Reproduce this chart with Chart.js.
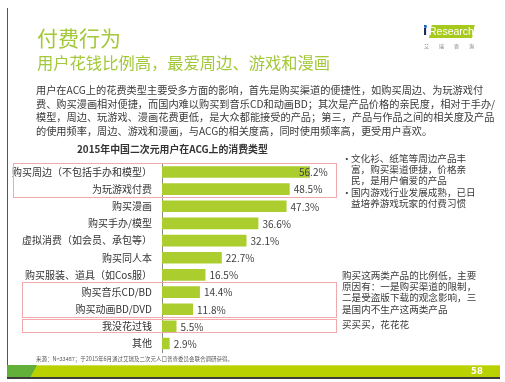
<!DOCTYPE html>
<html>
<head>
<meta charset="utf-8">
<script src="https://cdn.jsdelivr.net/npm/chart.js@4/dist/chart.umd.min.js"></script>
<style>
  html,body{margin:0;padding:0;background:#fff;}
  body{width:505px;height:382px;position:relative;overflow:hidden;font-family:"Noto Sans CJK SC","Noto Sans",sans-serif;}
  .abs{position:absolute;white-space:nowrap;}
  #chart{position:absolute;left:0;top:0;}
  .title{left:37px;top:24px;font-size:21px;line-height:26px;color:#a3c93a;}
  .subtitle{left:37px;top:52px;font-size:16.3px;line-height:20px;color:#a3c93a;}
  .body{left:36px;top:83px;font-size:10.2px;line-height:13.7px;color:#3a3a3a;}
  .body .j{width:425px;text-align:justify;text-align-last:justify;}
  .ctitle{left:77px;top:142px;font-size:9.9px;line-height:14px;font-weight:bold;color:#333;}
  .note{font-size:9.6px;line-height:11.2px;color:#3a3a3a;}
  .foot{left:36px;top:355px;font-size:5.5px;line-height:8px;color:#555;}
</style>
</head>
<body>
<canvas id="chart" width="505" height="382"></canvas>

<div class="abs" style="left:6.5px;top:8px;width:1.5px;height:371px;background:#555;"></div>

<div class="abs title">付费行为</div>
<div class="abs subtitle">用户花钱比例高，最爱周边、游戏和漫画</div>

<div class="abs body">
  <div class="j">用户在ACG上的花费类型主要受多方面的影响，首先是购买渠道的便捷性，如购买周边、为玩游戏付</div>
  <div class="j">费、购买漫画相对便捷，而国内难以购买到音乐CD和动画BD；其次是产品价格的亲民度，相对于手办/</div>
  <div class="j">模型，周边、玩游戏、漫画花费更低，是大众都能接受的产品；第三，产品与作品之间的相关度及产品</div>
  <div>的使用频率，周边、游戏和漫画，与ACG的相关度高，同时使用频率高，更受用户喜欢。</div>
</div>

<div class="abs ctitle">2015年中国二次元用户在ACG上的消费类型</div>

<div class="abs note" style="left:342px;top:153px;">•</div>
<div class="abs note" style="left:351px;top:153px;">文化衫、纸笔等周边产品丰<br>富，购买渠道便捷，价格亲<br>民，是用户偏爱的产品</div>
<div class="abs note" style="left:342px;top:187px;">•</div>
<div class="abs note" style="left:351px;top:187px;">国内游戏行业发展成熟，已日<br>益培养游戏玩家的付费习惯</div>

<div class="abs note" style="left:342px;top:270px;">购买这两类产品的比例低，主要<br>原因有：一是购买渠道的限制，<br>二是受盗版下载的观念影响，三<br>是国内不生产这两类产品</div>
<div class="abs note" style="left:342px;top:319px;">买买买，花花花</div>

<div class="abs foot">来源：N=33487；于2015年6月通过艾瑞及二次元人口普查委员会联合调研获得。</div>

<!-- logo -->
<div class="abs" style="left:423px;top:24px;font-size:12px;line-height:14px;font-weight:bold;color:#1a2a5a;font-family:'DejaVu Sans',sans-serif;">i</div>
<div class="abs" style="left:424px;top:24.5px;width:3px;height:3px;border-radius:2px;background:#1e6fd0;"></div>
<div class="abs" style="left:429px;top:25px;width:43px;height:13px;background:#a6c91c;transform:skewX(-12deg);transform-origin:left bottom;"></div>
<div class="abs" style="left:429px;top:24.5px;font-size:10.5px;line-height:13px;color:#fff;font-family:'Liberation Sans',sans-serif;">Research</div>
<div class="abs" style="left:424px;top:42px;font-size:5px;line-height:8px;color:#777;letter-spacing:10px;">艾瑞咨询</div>

<!-- bottom band -->
<div class="abs" style="left:7px;top:365px;width:493px;height:12px;background:#bad100;"></div>
<div class="abs" style="left:7px;top:365px;width:493px;height:1px;background:#cfe04a;"></div>
<div class="abs" style="left:7px;top:365px;width:30px;height:12px;background:#62b03a;clip-path:polygon(0 0,100% 0,78% 100%,0 100%);"></div>
<div class="abs" style="left:7px;top:377px;width:493px;height:2px;background:#3c3c3c;"></div>
<div class="abs" style="left:471px;top:366px;font-size:8.5px;line-height:10px;font-weight:bold;color:#fff;font-family:'DejaVu Sans',sans-serif;">58</div>

<script>
const categories = [
  "购买周边（不包括手办和模型）",
  "为玩游戏付费",
  "购买漫画",
  "购买手办/模型",
  "虚拟消费（如会员、承包等）",
  "购买同人本",
  "购买服装、道具（如Cos服）",
  "购买音乐CD/BD",
  "购买动画BD/DVD",
  "我没花过钱",
  "其他"
];
const values = [56.2, 48.5, 47.3, 36.6, 32.1, 22.7, 16.5, 14.4, 11.8, 5.5, 2.9];
// groups of categories (first index, last index) outlined in pink
const highlightGroups = [[0, 1], [7, 8], [9, 9]];

const FONT = '"Noto Sans CJK SC","Noto Sans",sans-serif';

const boxPlugin = {
  id: 'boxes',
  afterDraw(chart) {
    const ctx = chart.ctx;
    const ys = chart.scales.y;
    const specs = [
      {x0: 13, x1: 336, up: 9, down: 8},
      {x0: 22, x1: 336, up: 10, down: 7.5},
      {x0: 22, x1: 336, up: 7, down: 6}
    ];
    ctx.save();
    ctx.strokeStyle = '#f1a9ab';
    ctx.lineWidth = 1;
    highlightGroups.forEach((g, k) => {
      const s = specs[k];
      const top = Math.round(ys.getPixelForValue(g[0]) - s.up) + 0.5;
      const bot = Math.round(ys.getPixelForValue(g[1]) + s.down) + 0.5;
      ctx.strokeRect(s.x0 + 0.5, top, s.x1 - s.x0, bot - top);
    });
    ctx.restore();
  }
};

const valuePlugin = {
  id: 'values',
  afterDatasetsDraw(chart) {
    const ctx = chart.ctx;
    const meta = chart.getDatasetMeta(0);
    ctx.save();
    ctx.font = '10px ' + FONT;
    ctx.fillStyle = '#404040';
    ctx.textBaseline = 'middle';
    ctx.textAlign = 'left';
    meta.data.forEach((bar, i) => {
      const x = Math.min(bar.x + 4, chart.chartArea.left + 137);
      ctx.fillText(values[i].toFixed(1) + '%', x, bar.y + 0.5);
    });
    ctx.restore();
  }
};

new Chart(document.getElementById('chart'), {
  type: 'bar',
  data: {
    labels: categories,
    datasets: [{
      data: values,
      backgroundColor: '#abcd2e',
      borderWidth: 0,
      barPercentage: 0.68,
      categoryPercentage: 1
    }]
  },
  options: {
    indexAxis: 'y',
    responsive: false,
    animation: false,
    devicePixelRatio: 1,
    layout: {padding: {left: 0, right: 185, top: 163.4, bottom: 29.9}},
    plugins: {legend: {display: false}, tooltip: {enabled: false}, title: {display: false}},
    scales: {
      x: {display: false, min: 0, max: 60},
      y: {
        afterFit(scale) { scale.width = 162; },
        grid: {display: false, drawTicks: false},
        border: {display: true, color: '#8a8a8a', width: 1},
        ticks: {
          autoSkip: false,
          padding: 10,
          color: '#333',
          font: {family: FONT, size: 10}
        }
      }
    }
  },
  plugins: [boxPlugin, valuePlugin]
});
</script>
</body>
</html>
